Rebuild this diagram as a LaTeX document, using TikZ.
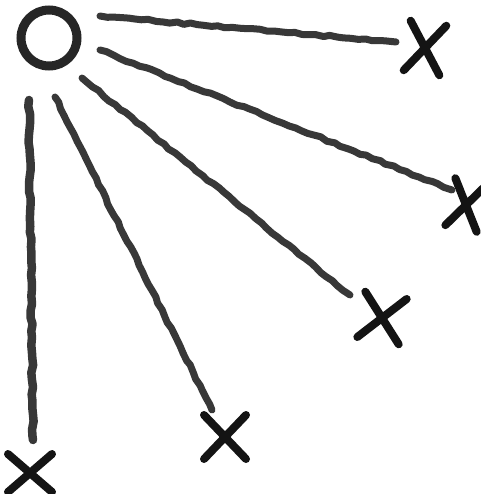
\documentclass[tikz,border=0pt]{standalone}
\usetikzlibrary{shapes.misc,decorations.pathmorphing}
\begin{document}
\begin{tikzpicture}[x=1pt,y=-1pt,
  pencil/.style={draw=black!78,line cap=round,line join=round,
    decorate,decoration={random steps,segment length=7pt,amplitude=1pt}},
  ray/.style={pencil,line width=7pt},
  sunring/.style={circle,draw=black!85,line width=9pt,minimum size=56pt,inner sep=0pt},
  xmark/.style={cross out,draw=black!92,line width=8pt,line cap=round,inner sep=0pt}]
\useasboundingbox[fill=white] (0,0) rectangle (480,494);
\node[sunring] (sun) at (49,38) {};
\node[xmark,minimum width=28pt,minimum height=42pt,rotate=-8] (x1) at (425,48) {};
\node[xmark,minimum width=24pt,minimum height=40pt,rotate=-12] (x2) at (466,205) {};
\node[xmark,minimum width=34pt,minimum height=38pt,rotate=-10] (x3) at (382,318) {};
\node[xmark,minimum width=34pt,minimum height=36pt] (x4) at (225,437) {};
\node[xmark,minimum width=36pt,minimum height=30pt] (x5) at (30,473) {};
\coordinate (r1s) at (100,16); \coordinate (r1e) at (396,42);
\coordinate (r2s) at (100,50); \coordinate (r2e) at (452,190);
\coordinate (r3s) at (82,78);  \coordinate (r3e) at (350,295);
\coordinate (r4s) at (55,97);  \coordinate (r4e) at (212,410);
\coordinate (r5s) at (29,100); \coordinate (r5e) at (33,440);
\draw[ray] (r1s) -- (r1e);
\draw[ray] (r2s) -- (r2e);
\draw[ray] (r3s) -- (r3e);
\draw[ray] (r4s) -- (r4e);
\draw[ray,line width=8.5pt] (r5s) -- (r5e);
\end{tikzpicture}
\end{document}
